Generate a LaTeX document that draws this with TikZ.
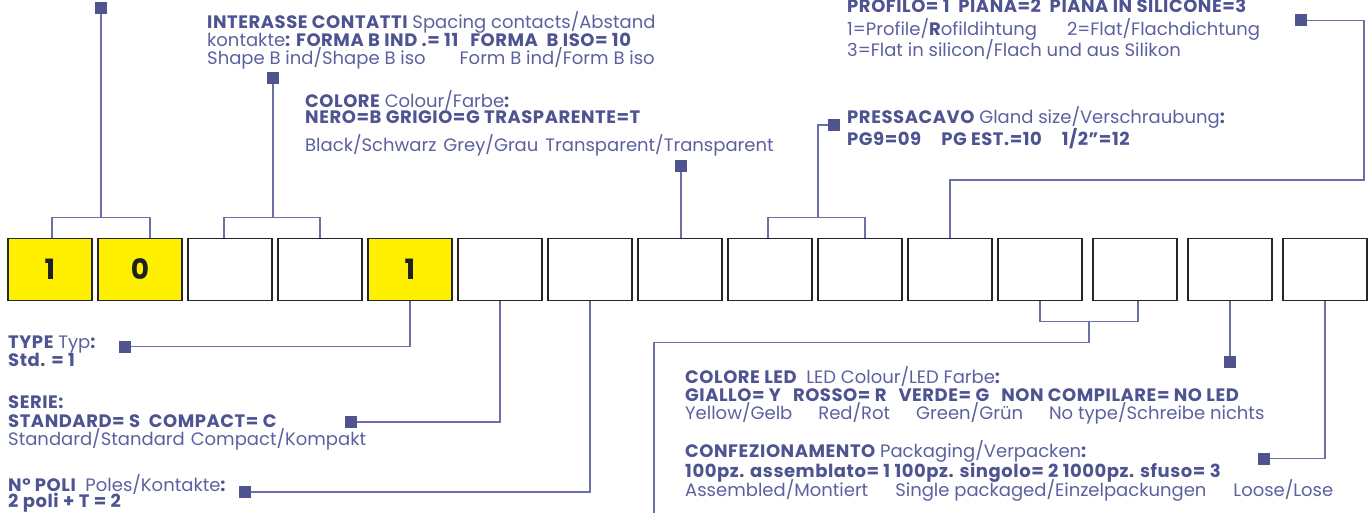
\documentclass[tikz,border=0pt]{standalone}
\usepackage{fontspec}
\setmainfont{Poppins}[BoldFeatures={LetterSpace=3}]
\usetikzlibrary{positioning,calc}

\definecolor{navy}{HTML}{4F548F}
\definecolor{wire}{HTML}{6C70A9}
\definecolor{ink}{HTML}{4E5391}
\definecolor{inklight}{HTML}{5C60A0}
\definecolor{cellyellow}{HTML}{FFF000}

\newcommand{\hb}[1]{{\bfseries\color{ink}#1}}

\begin{document}
\begin{tikzpicture}[
    x=1pt, y=-1pt,
    cell/.style={rectangle, draw=black!85, line width=1.3pt, minimum width=84pt, minimum height=62pt,
      inner sep=0pt, font=\fontsize{28}{28}\selectfont\bfseries, text=black!88},
    filled/.style={cell, fill=cellyellow},
    tag/.style={rectangle, fill=navy, minimum size=12pt, inner sep=0pt},
    ln/.style={draw=wire, line width=1.2pt},
    txt/.style={anchor=base west, inner sep=0pt, text=inklight, font=\fontsize{18}{20}\selectfont}
  ]
  \useasboundingbox (0,0) rectangle (1370,513);

  % code cells
  \foreach \n/\x/\k/\d in {1/50/filled/1, 2/140/filled/0, 3/230/cell/{}, 4/320/cell/{}, 5/410/filled/1,
      6/500/cell/{}, 7/590/cell/{}, 8/680/cell/{}, 9/770/cell/{}, 10/860/cell/{}, 11/950/cell/{},
      12/1040/cell/{}, 13/1135/cell/{}, 14/1230/cell/{}, 15/1325/cell/{}}
    \node[\k] (b\n) at (\x,269.5) {\d};

  % markers
  \node[tag] (tIdx) at (101,8) {};
  \node[tag] (tPitch) at (273,78) {};
  \node[tag] (tColour) at (681,166) {};
  \node[tag] (tGland) at (834,125) {};
  \node[tag] (tSeal) at (1301,20.5) {};
  \node[tag] (tType) at (125,346.7) {};
  \node[tag] (tSerie) at (351,422) {};
  \node[tag] (tPoles) at (245,492) {};
  \node[tag] (tLed) at (1230,362) {};
  \node[tag] (tPack) at (1264,458.7) {};

  % junctions
  \coordinate (jIdx) at (101,217.7);
  \coordinate (jPitch) at (273,217.7);
  \coordinate (jGland) at (818,217.7);
  \coordinate (kSeal) at (1364,180);
  \coordinate (jLow) at (1089,321.3);
  \coordinate (lowEnd) at (654,513);

  % connectors above
  \draw[ln] ([xshift=2pt]b1.north) |- (jIdx) -| ([xshift=10pt]b2.north);
  \draw[ln] (jIdx) -- (tIdx);
  \draw[ln] ([xshift=-6pt]b3.north) |- (jPitch) -| (b4.north);
  \draw[ln] (jPitch) -- (tPitch);
  \draw[ln] (tColour) -- (tColour |- b8.north);
  \draw[ln] ([xshift=-2pt]b9.north) |- (jGland) -| ([xshift=5pt]b10.north);
  \draw[ln] (jGland) |- (tGland);
  \draw[ln] (tSeal) -| (kSeal) -| (b11.north);

  % connectors below
  \draw[ln] (b5.south) |- (tType);
  \draw[ln] (b6.south) |- (tSerie);
  \draw[ln] (b7.south) |- (tPoles);
  \draw[ln] (b12.south) |- (jLow) -| ([xshift=3pt]b13.south);
  \draw[ln] (jLow) -- ++(0,21) -| (lowEnd);
  \draw[ln] (b14.south) -- (tLed);
  \draw[ln] (b15.south) |- (tPack);

  % texts above
  \node[txt] (pitch1) at (207,28.3) {\hb{INTERASSE CONTATTI} Spacing contacts/Abstand};
  \node[txt] (pitch2) at (207,46.7) {kontakte\hb{: FORMA B IND .= 11\hspace{12pt}FORMA\ \ B ISO= 10}};
  \node[txt] (pitch3) at (207,65) {Shape B ind/Shape B iso\hspace{34pt}Form B ind/Form B iso};

  \node[txt] (col1) at (305,107.5) {\hb{COLORE} Colour/Farbe\hb{:}};
  \node[txt] (col2) at (305,123.8) {\hb{NERO=B GRIGIO=G TRASPARENTE=T}};
  \node[txt] (col3) at (305,151.7) {Black/Schwarz\hspace{7pt}Grey/Grau\hspace{7pt}Transparent/Transparent};

  \node[txt] (seal1) at (847,12.7) {\hb{PROFILO= 1\ \ PIANA=2\ \ PIANA IN SILICONE=3}};
  \node[txt] (seal2) at (847,35.7) {1=Profile/\hb{R}ofildihtung\hspace{30pt}2=Flat/Flachdichtung};
  \node[txt] (seal3) at (847,56.7) {3=Flat in silicon/Flach und aus Silikon};

  \node[txt] (gland1) at (847,123.3) {\hb{PRESSACAVO} Gland size/Verschraubung\hb{:}};
  \node[txt] (gland2) at (847,145.7) {\hb{PG9=09\hspace{20pt}PG EST.=10\hspace{20pt}1/2"=12}};

  % texts below
  \node[txt] (type1) at (8,348.3) {\hb{TYPE} Typ\hb{:}};
  \node[txt] (type2) at (8,366) {\hb{Std. = 1}};

  \node[txt] (serie1) at (8,408) {\hb{SERIE:}};
  \node[txt] (serie2) at (8,427) {\hb{STANDARD= S\ \ COMPACT= C}};
  \node[txt] (serie3) at (8,445) {Standard/Standard\hspace{6pt}Compact/Kompakt};

  \node[txt] (poles1) at (8,491) {\hb{N° POLI}\ \ Poles/Kontakte\hb{:}};
  \node[txt] (poles2) at (8,507) {\hb{2 poli + T = 2}};

  \node[txt] (led1) at (685,383.3) {\hb{COLORE LED}\ \ LED Colour/LED Farbe\hb{:}};
  \node[txt] (led2) at (685,401.7) {\hb{GIALLO= Y\hspace{12pt}ROSSO= R\hspace{12pt}VERDE= G\hspace{12pt}NON COMPILARE= NO LED}};
  \node[txt] (led3) at (685,419.3) {Yellow/Gelb\hspace{26pt}Red/Rot\hspace{26pt}Green/Grün\hspace{26pt}No type/Schreibe nichts};

  \node[txt] (pack1) at (685,457.5) {\hb{CONFEZIONAMENTO} Packaging/Verpacken\hb{:}};
  \node[txt] (pack2) at (685,477.3) {\hb{100pz. assemblato= 1 100pz. singolo= 2 1000pz. sfuso= 3}};
  \node[txt] (pack3) at (685,496.7) {Assembled/Montiert\hspace{27pt}Single packaged/Einzelpackungen\hspace{27pt}Loose/Lose};
\end{tikzpicture}
\end{document}
